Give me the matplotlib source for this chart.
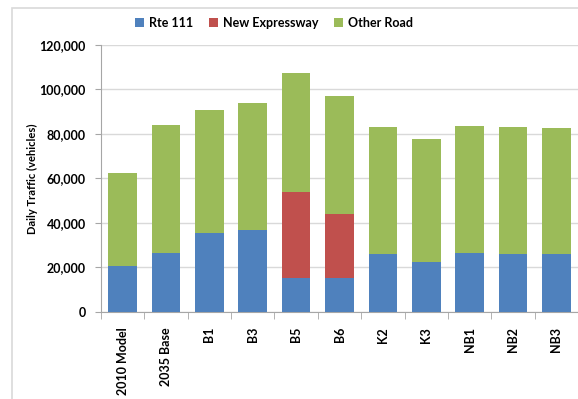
import numpy as np
import matplotlib.pyplot as plt
from matplotlib.patches import Rectangle
from matplotlib.ticker import FuncFormatter

plt.rcParams['font.family'] = ['Lato', 'DejaVu Sans']

categories = ["2010 Model", "2035 Base", "B1", "B3", "B5", "B6",
              "K2", "K3", "NB1", "NB2", "NB3"]
rte111 = [20600, 26500, 35300, 36800, 15200, 15200,
          26100, 22200, 26500, 26100, 26100]
new_expressway = [0, 0, 0, 0, 38700, 28600, 0, 0, 0, 0, 0]
other_road = [41700, 57500, 55500, 57200, 53400, 53200,
              57000, 55500, 57000, 57000, 56400]

colors = ["#4f81bd", "#c0504d", "#9bbb59"]

fig = plt.figure(figsize=(5.78, 3.99), dpi=100)
# outer chart frame
fig.patches.append(Rectangle((12 / 578, -0.1), 1.2, 1 - 8 / 399 + 0.1,
                             transform=fig.transFigure, fill=False,
                             edgecolor="#d9d9d9", linewidth=1.2))

ax = fig.add_axes([101 / 578, 1 - 311.7 / 399, 1 - 101 / 578, (311.7 - 45) / 399])

x = np.arange(len(categories))
w = 0.66
rte = np.array(rte111)
nex = np.array(new_expressway)
oth = np.array(other_road)
ax.bar(x, rte, w, color=colors[0], label="Rte 111", zorder=3)
ax.bar(x, nex, w, bottom=rte, color=colors[1], label="New Expressway", zorder=3)
ax.bar(x, oth, w, bottom=rte + nex, color=colors[2], label="Other Road", zorder=3)

ax.set_xlim(-0.5, len(categories) - 0.5)
ax.set_ylim(0, 120000)
ax.set_yticks(np.arange(0, 120001, 20000))
ax.yaxis.set_major_formatter(FuncFormatter(lambda v, p: f"{int(v):,}"))
ax.grid(axis="y", color="#d9d9d9", linewidth=1, zorder=0)

ax.set_xticks(x)
ax.set_xticklabels(categories, rotation=90, fontsize=9, fontweight="bold")
ax.set_xticks(np.arange(-0.5, len(categories), 1), minor=True)
ax.tick_params(axis="x", which="major", length=0, pad=11)
ax.tick_params(axis="x", which="minor", length=5, color="#a6a6a6", direction="out")
ax.tick_params(axis="y", length=4, color="#a6a6a6", labelsize=9, pad=7)
for lab in ax.get_yticklabels():
    lab.set_fontweight("bold")

for s in ["top", "right"]:
    ax.spines[s].set_visible(False)
for s in ["left", "bottom"]:
    ax.spines[s].set_color("#a6a6a6")

ax.set_ylabel("Daily Traffic (vehicles)", fontsize=8, fontweight="bold", labelpad=1)

fig.legend(loc="center", bbox_to_anchor=(274 / 578, 1 - 23 / 399), ncol=3,
           frameon=False, handlelength=0.7, handleheight=0.7, handletextpad=0.4,
           columnspacing=1.3, prop={"weight": "bold", "size": 9})

fig.savefig("out.png", dpi=100)
